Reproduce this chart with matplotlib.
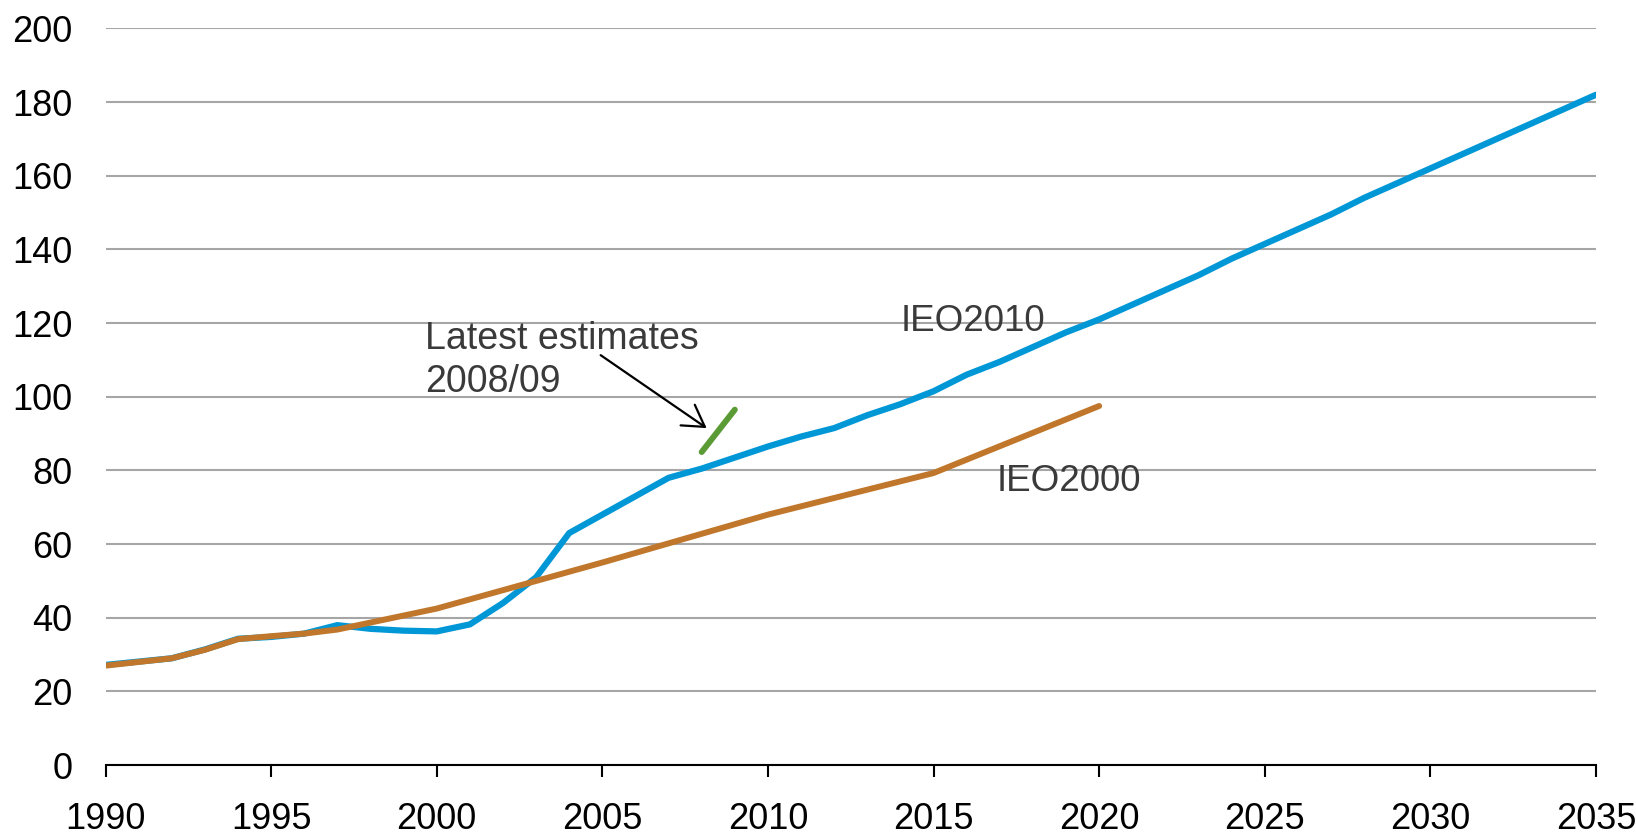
"""IEO2000 vs IEO2010 projection, with latest estimates for 2008/09."""
import matplotlib
matplotlib.use("Agg")
import matplotlib.pyplot as plt

plt.rcParams["font.family"] = ["Liberation Sans", "DejaVu Sans"]

# IEO2010 (annual)
ieo2010_years = list(range(1990, 2036))
ieo2010_vals = [27.2, 28.1, 29.0, 31.4, 34.3, 34.8, 35.7, 38.0, 37.0, 36.5,
                36.3, 38.2, 44.0, 51.0, 63.0, 68.0, 73.0, 78.0, 80.5, 83.5,
                86.5, 89.2, 91.5, 95.0, 98.0, 101.5, 106.0, 109.5, 113.5, 117.5,
                121.0, 125.0, 129.0, 133.0, 137.5, 141.5, 145.5, 149.5, 154.0, 158.0,
                162.0, 166.0, 170.0, 174.0, 178.0, 182.0]

# IEO2000
ieo2000_years = [1990, 1992, 1993, 1994, 1995, 1996, 1997, 2000, 2005, 2010, 2015, 2020]
ieo2000_vals = [27.0, 29.0, 31.3, 34.2, 35.0, 35.7, 36.8, 42.5, 55.0, 68.0, 79.3, 97.5]

# latest estimates
latest_years = [2008, 2009]
latest_vals = [85.0, 96.5]

BLUE = "#0097d7"
ORANGE = "#c0772c"
GREEN = "#5b9b35"
TEXT = "#3a3a3a"
FS = 26

fig = plt.figure(figsize=(16.36, 8.38), dpi=100)
ax = fig.add_axes([0.0645, 0.087, 0.911, 0.879])

ax.plot(ieo2010_years, ieo2010_vals, color=BLUE, lw=4.5, solid_capstyle="round", zorder=3)
ax.plot(ieo2000_years, ieo2000_vals, color=ORANGE, lw=4.3, solid_capstyle="round", zorder=4)
ax.plot(latest_years, latest_vals, color=GREEN, lw=4.3, solid_capstyle="round", zorder=4)

ax.set_xlim(1990, 2035)
ax.set_ylim(0, 200)
ax.set_xticks(range(1990, 2036, 5))
ax.set_yticks(range(0, 201, 20))
ax.grid(axis="y", color="#a6a6a6", lw=1.5)
ax.set_axisbelow(True)
for s in ["left", "right", "top"]:
    ax.spines[s].set_visible(False)
ax.spines["bottom"].set_linewidth(1.5)
ax.spines["bottom"].set_zorder(5)
ax.tick_params(axis="x", direction="out", length=8.5, width=1.5, pad=18, labelsize=FS)
ax.tick_params(axis="y", length=0, pad=24, labelsize=FS)

ax.text(2014.0, 117.8, "IEO2010", fontsize=26.5, color=TEXT, va="baseline", ha="left")
ax.text(2016.9, 74.3, "IEO2000", fontsize=26.5, color=TEXT, va="baseline", ha="left")
ax.text(1999.65, 113.1, "Latest estimates", fontsize=27, color=TEXT,
        va="baseline", ha="left")
ax.text(1999.65, 101.3, "2008/09", fontsize=27, color=TEXT,
        va="baseline", ha="left")
ax.annotate("", xy=(2008.15, 91.5), xytext=(2004.95, 111.3),
            arrowprops=dict(arrowstyle="->,head_length=0.5,head_width=0.3",
                            color="black", lw=1.6, mutation_scale=30,
                            shrinkA=0, shrinkB=0))

fig.savefig("out.png", dpi=100)
